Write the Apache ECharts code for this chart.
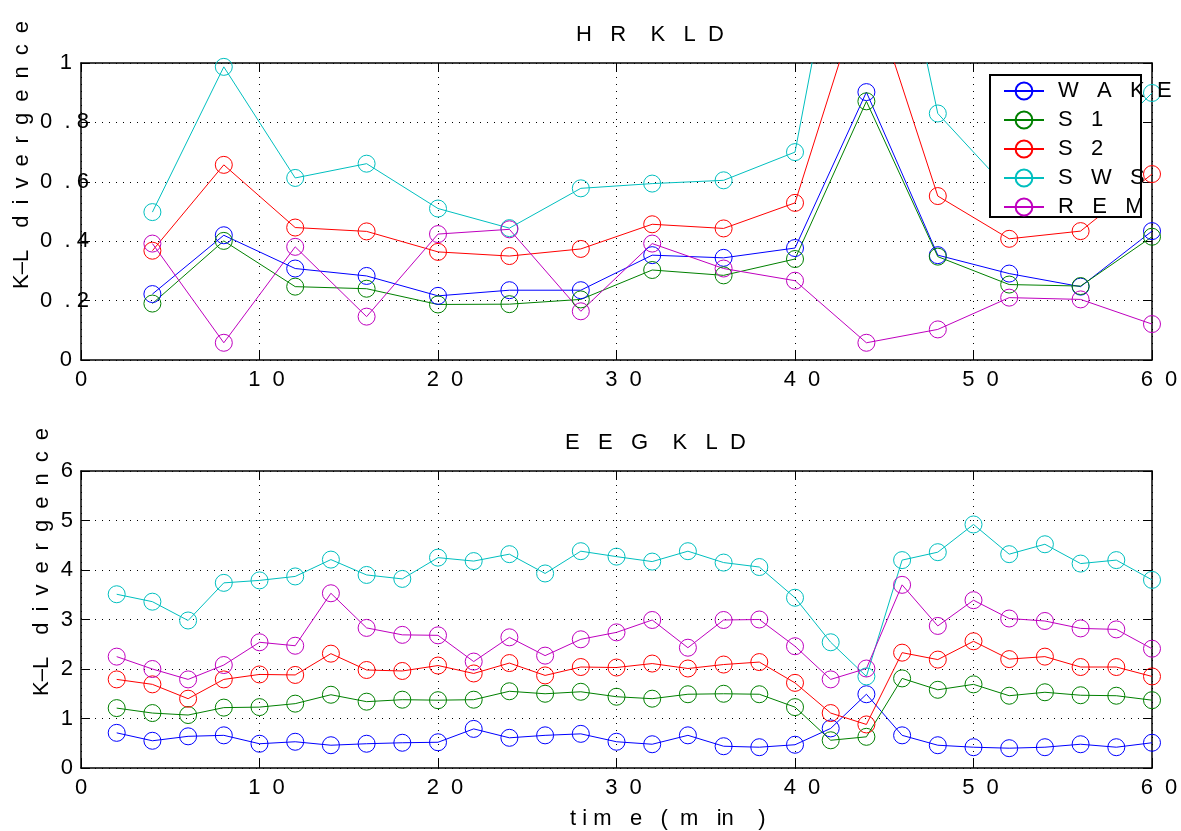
<!DOCTYPE html>
<html>
<head>
<meta charset="utf-8">
<script src="https://cdn.jsdelivr.net/npm/echarts@6/dist/echarts.min.js"></script>
<style>
html,body{margin:0;padding:0;background:#fff;}
#c{width:1181px;height:831px;}
</style>
</head>
<body>
<div id="c"></div>
<script>
// ---------- data ----------
const seriesNames = ['WAKE', 'S1', 'S2', 'SWS', 'REM'];
const legendLabels = ['W   A   K  E', 'S   1', 'S   2', 'S   W   S', 'R   E   M'];
const colors = ['#0000ff', '#008000', '#ff0000', '#00bfbf', '#bf00bf'];

const hrTime = [4, 8, 12, 16, 20, 24, 28, 32, 36, 40, 44, 48, 52, 56, 60];
const hrWake = [0.222, 0.420, 0.308, 0.283, 0.216, 0.235, 0.235, 0.353, 0.344, 0.377, 0.902, 0.353, 0.291, 0.247, 0.434];
const hrS1   = [0.190, 0.401, 0.247, 0.240, 0.187, 0.188, 0.204, 0.303, 0.285, 0.340, 0.871, 0.348, 0.254, 0.249, 0.415];
const hrS2   = [0.368, 0.657, 0.446, 0.433, 0.364, 0.350, 0.374, 0.457, 0.443, 0.529, 1.290, 0.552, 0.408, 0.434, 0.626];
const hrSWS  = [0.498, 0.987, 0.613, 0.661, 0.510, 0.444, 0.578, 0.594, 0.605, 0.700, 1.960, 0.830, 0.570, 0.660, 0.899];
const hrREM  = [0.392, 0.058, 0.381, 0.146, 0.424, 0.440, 0.164, 0.392, 0.308, 0.267, 0.058, 0.103, 0.210, 0.204, 0.121];

const eegTime = [2, 4, 6, 8, 10, 12, 14, 16, 18, 20, 22, 24, 26, 28, 30, 32, 34, 36, 38, 40, 42, 44, 46, 48, 50, 52, 54, 56, 58, 60];
const eegWake = [0.71, 0.55, 0.64, 0.66, 0.49, 0.53, 0.46, 0.49, 0.51, 0.52, 0.79, 0.61, 0.66, 0.69, 0.53, 0.48, 0.66, 0.44, 0.42, 0.47, 0.80, 1.49, 0.66, 0.46, 0.42, 0.40, 0.42, 0.48, 0.42, 0.51];
const eegS1   = [1.21, 1.11, 1.07, 1.22, 1.23, 1.30, 1.48, 1.34, 1.38, 1.37, 1.38, 1.55, 1.50, 1.54, 1.44, 1.40, 1.49, 1.50, 1.49, 1.23, 0.56, 0.63, 1.81, 1.58, 1.69, 1.46, 1.53, 1.47, 1.46, 1.37];
const eegS2   = [1.79, 1.69, 1.40, 1.79, 1.89, 1.88, 2.31, 1.98, 1.96, 2.07, 1.91, 2.12, 1.87, 2.04, 2.03, 2.11, 2.01, 2.09, 2.14, 1.72, 1.11, 0.88, 2.33, 2.19, 2.56, 2.20, 2.25, 2.04, 2.04, 1.85];
const eegSWS  = [3.51, 3.36, 2.98, 3.74, 3.79, 3.87, 4.21, 3.90, 3.82, 4.25, 4.18, 4.32, 3.93, 4.38, 4.27, 4.17, 4.38, 4.15, 4.06, 3.44, 2.54, 1.85, 4.20, 4.36, 4.92, 4.32, 4.52, 4.13, 4.20, 3.80];
const eegREM  = [2.25, 2.00, 1.79, 2.08, 2.54, 2.47, 3.53, 2.83, 2.69, 2.68, 2.15, 2.64, 2.27, 2.60, 2.74, 2.99, 2.43, 2.99, 3.00, 2.46, 1.79, 2.01, 3.70, 2.87, 3.39, 3.02, 2.97, 2.82, 2.80, 2.41];

const hrTitle = 'H   R    K   L  D';
const eegTitle = 'E   E   G    K   L  D';
const xLabelText = 't i m   e   (  m   in    )';
const yLabelText = 'K\u2013L\u2002\u2002d\u2002i\u2002v\u2002e\u2002r\u2002g\u2002e\u2002n\u2002c\u2002e';

// ---------- helpers ----------
const FONT = 'Liberation Sans, Arial, Helvetica, sans-serif';
const FS = 22;
const black = '#000';

function mkSeries(name, color, xs, ys, xi, yi) {
  return {
    name: name, type: 'line', xAxisIndex: xi, yAxisIndex: yi,
    data: xs.map((x, i) => [x, ys[i]]),
    symbol: 'circle', symbolSize: 17, showSymbol: true,
    lineStyle: { color: color, width: 1 },
    itemStyle: { color: 'rgba(255,255,255,0)', borderColor: color, borderWidth: 1 },
    emphasis: { disabled: true },
    clip: true, animation: false, z: 2
  };
}

const xFmt = v => v === 0 ? '0' : '{p|' + String(v).split('').join('  ') + '}';
const isInt = v => Math.abs(v - Math.round(v)) < 1e-9;
const hrYFmt = v => {
  if (isInt(v)) return '{i|' + Math.round(v) + '}';
  const s = v.toFixed(1);
  return s[0] + '  . ' + s[2];
};

function xAxisPair(grid) {
  return [
    {
      gridIndex: grid, type: 'value', min: 0, max: 60, interval: 10, position: 'bottom',
      axisLine: { show: true, onZero: false, lineStyle: { color: black, width: 1.5 } },
      axisTick: { show: true, inside: true, length: 9, lineStyle: { color: black, width: 1 } },
      axisLabel: {
        formatter: xFmt, margin: 9, color: black, fontFamily: FONT, fontSize: FS,
        rich: { p: { padding: [0, 0, 0, 14], fontFamily: FONT, fontSize: FS, color: black } }
      },
      splitLine: { show: true, lineStyle: { type: [1, 6], color: black, width: 1 } }
    },
    {
      gridIndex: grid, type: 'value', min: 0, max: 60, interval: 10, position: 'top',
      axisLine: { show: true, onZero: false, lineStyle: { color: black, width: 1.5 } },
      axisTick: { show: true, inside: true, length: 9, lineStyle: { color: black, width: 1 } },
      axisLabel: { show: false }, splitLine: { show: false }
    }
  ];
}

function yAxisPair(grid, max, interval, fmt, margin) {
  return [
    {
      gridIndex: grid, type: 'value', min: 0, max: max, interval: interval, position: 'left',
      axisLine: { show: true, onZero: false, lineStyle: { color: black, width: 1.5 } },
      axisTick: { show: true, inside: true, length: 9, lineStyle: { color: black, width: 1 } },
      axisLabel: {
        formatter: fmt, margin: margin, color: black, fontFamily: FONT, fontSize: FS,
        rich: { i: { padding: [0, 17, 0, 0], fontFamily: FONT, fontSize: FS, color: black } }
      },
      splitLine: { show: true, lineStyle: { type: [1, 6], color: black, width: 1 } }
    },
    {
      gridIndex: grid, type: 'value', min: 0, max: max, interval: interval, position: 'right',
      axisLine: { show: true, onZero: false, lineStyle: { color: black, width: 1.5 } },
      axisTick: { show: true, inside: true, length: 9, lineStyle: { color: black, width: 1 } },
      axisLabel: { show: false }, splitLine: { show: false }
    }
  ];
}

const hrSets = [hrWake, hrS1, hrS2, hrSWS, hrREM];
const eegSets = [eegWake, eegS1, eegS2, eegSWS, eegREM];
const series = [];
seriesNames.forEach((n, k) => series.push(mkSeries(n, colors[k], hrTime, hrSets[k], 0, 0)));
seriesNames.forEach((n, k) => series.push(mkSeries(n, colors[k], eegTime, eegSets[k], 2, 2)));

const chart = echarts.init(document.getElementById('c'), null, { renderer: 'canvas' });
chart.setOption({
  backgroundColor: '#fff',
  animation: false,
  textStyle: { fontFamily: FONT },
  title: [
    { text: hrTitle, left: 576, top: 24, padding: 0, textStyle: { fontFamily: FONT, fontSize: FS, fontWeight: 'normal', color: black } },
    { text: eegTitle, left: 565, top: 432, padding: 0, textStyle: { fontFamily: FONT, fontSize: FS, fontWeight: 'normal', color: black } }
  ],
  grid: [
    { left: 81, top: 63, width: 1071, height: 297, show: false },
    { left: 81, top: 471, width: 1071, height: 297, show: false }
  ],
  xAxis: [...xAxisPair(0), ...xAxisPair(1)],
  yAxis: [...yAxisPair(0, 1, 0.2, hrYFmt, -8), ...yAxisPair(1, 6, 1, v => String(v), 8)],
  legend: {
    data: seriesNames, orient: 'vertical', left: 1003, top: 80,
    itemWidth: 40, itemHeight: 21, itemGap: 7, padding: 0,
    selectedMode: false, z: 10,
    formatter: name => legendLabels[seriesNames.indexOf(name)],
    textStyle: { fontFamily: FONT, fontSize: FS, color: black, padding: [0, 0, 0, 9] }
  },
  graphic: [
    { type: 'rect', z: 5, shape: { x: 990, y: 75, width: 151, height: 142 },
      style: { fill: '#fff', stroke: black, lineWidth: 2 } },
    { type: 'text', z: 5, x: 22, y: 155, rotation: Math.PI / 2,
      style: { text: yLabelText, font: '22px ' + FONT, fill: black, align: 'center', verticalAlign: 'middle' } },
    { type: 'text', z: 5, x: 42, y: 562, rotation: Math.PI / 2,
      style: { text: yLabelText, font: '22px ' + FONT, fill: black, align: 'center', verticalAlign: 'middle' } },
    { type: 'text', z: 5, x: 570, y: 819,
      style: { text: xLabelText, font: FS + 'px ' + FONT, fill: black, align: 'left', verticalAlign: 'middle' } }
  ],
  series: series
});
</script>
</body>
</html>
